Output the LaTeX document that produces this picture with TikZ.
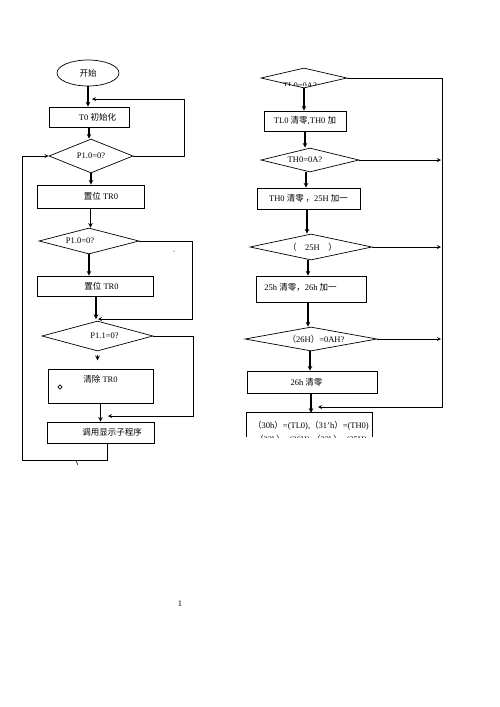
\documentclass[tikz,border=0pt]{standalone}
\usepackage{fontspec}
\setmainfont{Liberation Serif}
\newfontfamily\cjk{Noto Sans CJK SC}
\usetikzlibrary{shapes.geometric}
\begin{document}
\begin{tikzpicture}[x=1pt,y=-1pt,>=stealth,
	every node/.style={font=\fontsize{8.5}{10}\selectfont},
	box/.style={draw,line width=0.7pt,inner sep=1pt},
	dia/.style={draw,diamond,line width=0.7pt,inner sep=0pt},
	flow/.style={->,line width=1.1pt},
	back/.style={->,line width=0.8pt}]
		\useasboundingbox (0,0) rectangle (500,707);
		% left column
		\node[ellipse,draw,line width=0.7pt,minimum width=62,minimum height=26] (start) at (88,73) {\cjk 开始};
		\node[box,minimum width=80,minimum height=20,label={[xshift=8.5pt]center:T0 {\cjk 初始化}}] (init) at (89,117) {};
		\node[dia,minimum width=84,minimum height=25] (chk1) at (91,156) {P1.0=0?};
		\node[box,minimum width=107,minimum height=23,label={[xshift=10.5pt]center:{\cjk 置位} TR0}] (set1) at (90.5,196.5) {};
		\node[dia,minimum width=100,minimum height=26] (chk2) at (89,241) {};
		\begin{scope}
		\clip (40,230) rectangle (138,242.5);
		\node (chk2txt) at (80,241) {P1.0=0?};
		\end{scope}
		\node[box,minimum width=116,minimum height=20,label={[xshift=6.5pt]center:{\cjk 置位} TR0}] (set2) at (95,286) {};
		\node[dia,minimum width=111,minimum height=30,label={[xshift=7pt]center:P1.1=0?}] (chk3) at (97.5,336) {};
		\node[box,minimum width=105,minimum height=34,text height=7,text depth=14] (clr) at (100.5,386) {{\cjk 清除} TR0};
		\node[draw,diamond,inner sep=0pt,minimum size=4.5,line width=0.6pt] (mark) at (60,387) {};
		\node[box,minimum width=107,minimum height=21,label={[xshift=11.5pt]center:{\cjk 调用显示子程序}}] (show) at (100.5,432.5) {};
		\coordinate (m1) at (92,99);
		\coordinate (rl1) at (184,99);
		\coordinate (m2) at (98,319);
		\coordinate (rl2) at (192,319);
		\coordinate (m3) at (108,416);
		\coordinate (rl3) at (193,416);
		\coordinate (lp) at (22,460);
		\draw[flow] (start.south) -- (start.south |- init.north);
		\draw[flow] (init.south) -- (init.south |- chk1.north);
		\draw[flow] (chk1.south) -- (chk1.south |- set1.north);
		\draw[flow] (set1.south) -- (set1.south |- chk2.north);
		\draw[flow] (chk2.south) -- (chk2.south |- set2.north);
		\draw[flow] ([xshift=1pt]set2.south) -- ([xshift=1pt]set2.south |- m2);
		\draw[flow] ([yshift=-4pt]chk3.south) -- ([yshift=-9pt]chk3.south);
		\draw[flow] (clr.south) -- (clr.south |- show.north);
		\draw[back] (chk1.east) -| (rl1) -- (m1);
		\draw[back] (chk2.east) -| (rl2) -- (m2);
		\draw[back] (chk3.east) -| (rl3) -- (m3);
		\draw[back] ([xshift=6.5pt]show.south) |- (lp) |- (chk1.west);
		\draw[line width=0.5pt] (76,461) -- (78,465);
		\fill (174,251) circle (0.5pt);
		% right column
		\node[dia,minimum width=86,minimum height=20] (r1) at (304,78) {};
		\begin{scope}
		\clip (262,70) rectangle (346,85.5);
		\node (r1txt) at (300,86) {TL0=0A?};
		\end{scope}
		\node[box,minimum width=82,minimum height=20] (r2box) at (305,121) {TL0 {\cjk 清零},TH0 {\cjk 加}};
		\node[dia,minimum width=98,minimum height=24,label={[xshift=-5pt]center:TH0=0A?}] (r2) at (310,160) {};
		\node[box,minimum width=103,minimum height=21] (r3box) at (308.5,198.5) {TH0 {\cjk 清零 ，}25H {\cjk 加一}};
		\node[dia,minimum width=122,minimum height=26,label={[xshift=1.5pt]center:{\cjk （}\quad 25H\quad{\cjk ）}}] (r4) at (311,247) {};
		\node[box,minimum width=110,minimum height=26,label={[xshift=-10.5pt,yshift=2pt]center:25h {\cjk 清零，}26h {\cjk 加一}}] (r4box) at (311,289) {};
		\node[dia,minimum width=132,minimum height=24,label={[xshift=5pt]center:{\cjk （}26H{\cjk ）}=0AH?}] (r5) at (311,339) {};
		\node[box,minimum width=130,minimum height=22,label={[xshift=-5.5pt]center:26h {\cjk 清零}}] (r5box) at (312,382) {};
		\node[minimum width=125,minimum height=24] (out) at (309.5,425) {};
		\draw[line width=0.7pt] (out.south west) -- (out.north west) -- (out.north east) -- (out.south east);
		\begin{scope}
		\clip (out.south west) rectangle ([yshift=1pt]out.north east);
		\node[align=center,font=\fontsize{8.5}{14}\selectfont] (outtxt) at (311,433) {{\cjk （}30h{\cjk ）}=(TL0),{\cjk （}31’h{\cjk ）}=(TH0)\\{\cjk （}32h{\cjk ）}=(26H),{\cjk （}33h{\cjk ）}=(25H)};
		\end{scope}
		\coordinate (e2) at (441,160);
		\coordinate (e4) at (441,247);
		\coordinate (e5) at (441,339);
		\coordinate (vb) at (442,407);
		\coordinate (m4) at (318,407);
		\draw[flow] (r1.south) -- (r1.south |- r2box.north);
		\draw[flow] (r2box.south) -- (r2box.south |- r2.north);
		\draw[flow] ([xshift=-4pt]r2.south) -- ([xshift=-4pt]r2.south |- r3box.north);
		\draw[flow] ([xshift=-1.5pt]r3box.south) -- ([xshift=-1.5pt]r3box.south |- r4.north);
		\draw[flow] ([xshift=-3pt]r4.south) -- ([xshift=-3pt]r4.south |- r4box.north);
		\draw[flow] ([xshift=-3pt]r4box.south) -- ([xshift=-3pt]r4box.south |- r5.north);
		\draw[flow] ([xshift=-1pt]r5.south) -- ([xshift=-1pt]r5.south |- r5box.north);
		\draw[flow] ([xshift=-1pt]r5box.south) -- ([xshift=-1pt]r5box.south |- out.north);
		\draw[back] (r1.east) -| (vb) -- (m4);
		\draw[back] (r2.east) -- (e2);
		\draw[back] (r4.east) -- (e4);
		\draw[back] (r5.east) -- (e5);
		\node (page) at (180,604) {1};
\end{tikzpicture}
\end{document}
